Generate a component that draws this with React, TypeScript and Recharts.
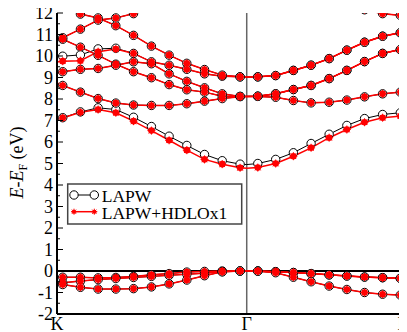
import { Line, LineChart, ReferenceLine, XAxis, YAxis } from "recharts";

// k-path: K = 0, Γ = 1.061, L = 1.935 (distance along the path)
const kPath = [
  0, 0.032, 0.131, 0.23, 0.329, 0.428, 0.528, 0.627, 0.726, 0.825, 0.924, 1.024,
  1.061, 1.123, 1.223, 1.322, 1.421, 1.522, 1.621, 1.72, 1.821, 1.92, 1.935,
];
// which k-points carry a symbol (the special points themselves do not)
const marked = [
  false, true, true, true, true, true, true, true, true, true, true, true,
  false, true, true, true, true, true, true, true, true, true, false,
];

const kTicks = [0, 1.061, 1.935];
const kLabels = ["K", "Γ", "L"];
const eTicks = [
  -2, -1.5, -1, -0.5, 0, 0.5, 1, 1.5, 2, 2.5, 3, 3.5, 4, 4.5, 5, 5.5, 6, 6.5, 7,
  7.5, 8, 8.5, 9, 9.5, 10, 10.5, 11, 11.5, 12,
];

// bands (eV), one value per k-point
const valence1 = [-0.28, -0.29, -0.29, -0.32, -0.3, -0.25, -0.18, -0.12, -0.05, -0.02, 0, 0, 0, 0, -0.03, -0.07, -0.12, -0.18, -0.23, -0.28, -0.31, -0.34, -0.34];
const valence2 = [-0.58, -0.55, -0.47, -0.4, -0.35, -0.3, -0.25, -0.2, -0.15, -0.1, -0.03, 0, 0, 0, -0.03, -0.07, -0.12, -0.18, -0.23, -0.28, -0.31, -0.34, -0.34];
const valence3 = [-0.6, -0.63, -0.76, -0.84, -0.84, -0.82, -0.74, -0.6, -0.42, -0.22, -0.04, 0, 0, -0.01, -0.08, -0.29, -0.5, -0.7, -0.86, -1.0, -1.08, -1.12, -1.13];
const condLapw = [6.98, 7.13, 7.4, 7.59, 7.51, 7.15, 6.72, 6.27, 5.84, 5.42, 5.13, 4.97, 4.95, 5.0, 5.19, 5.5, 5.93, 6.36, 6.77, 7.09, 7.28, 7.36, 7.37];
const condHdlo = [6.98, 7.12, 7.38, 7.51, 7.36, 6.97, 6.53, 6.08, 5.62, 5.19, 4.97, 4.8, 4.78, 4.81, 5.0, 5.34, 5.73, 6.2, 6.58, 6.92, 7.13, 7.2, 7.22];
const bandD = [8.75, 8.63, 8.32, 8.02, 7.81, 7.72, 7.7, 7.7, 7.78, 7.9, 8.02, 8.11, 8.12, 8.12, 8.08, 7.93, 7.82, 7.85, 7.95, 8.1, 8.24, 8.32, 8.33];
const bandA = [10.75, 10.78, 10.41, 10.03, 9.62, 9.27, 8.99, 8.67, 8.43, 8.32, 8.13, 8.12, 8.12, 8.13, 8.24, 8.44, 8.63, 8.95, 9.33, 9.74, 10.12, 10.3, 10.32];
const bandB = [9.2, 9.27, 9.38, 9.42, 9.57, 9.73, 9.64, 9.17, 8.82, 8.52, 8.24, 8.12, 8.12, 8.13, 8.24, 8.44, 8.63, 8.95, 9.33, 9.74, 10.12, 10.3, 10.32];
const bandCLapw = [9.97, 9.99, 10.05, 10.33, 10.36, 10.12, 9.73, 9.57, 9.38, 9.17, 9.06, 9.03, 9.02, 9.03, 9.09, 9.33, 9.57, 9.88, 10.27, 10.64, 10.92, 11.08, 11.1];
const bandCHdlo = [9.72, 9.76, 9.78, 10.2, 10.32, 10.12, 9.73, 9.57, 9.38, 9.17, 9.06, 9.03, 9.02, 9.03, 9.09, 9.33, 9.57, 9.88, 10.27, 10.64, 10.92, 11.08, 11.1];
const bandT1 = [12.75, 12.3, 11.95, 11.77, 11.41, 10.96, 10.46, 10.04, 9.66, 9.37, 9.11, 9.03, 9.02, 9.03, 9.09, 9.33, 9.57, 9.88, 10.27, 10.64, 10.92, 11.08, 11.1];
const bandT2 = [10.75, 10.85, 11.25, 11.67, 11.77, 11.97, 12.25, null, null, null, null, null, null, null, null, null, null, null, null, null, null, null, null];
const bandTop = [null, null, null, null, null, null, null, null, null, null, null, null, null, null, null, null, null, null, 12.6, 12.15, 11.97, 11.89, 11.88];

const lapwBands = [valence1, valence2, valence3, condLapw, bandD, bandA, bandB, bandCLapw, bandT1, bandT2, bandTop];
const hdloBands = [valence1, valence2, valence3, condHdlo, bandD, bandA, bandB, bandCHdlo, bandT1, bandT2, bandTop];

const W = 399;
const H = 324;
const AXIS_LEFT = 49;
const AXIS_RIGHT = 395;
const FONT = '"Liberation Serif", "Times New Roman", serif';

const rows = kPath.map((k, i) => {
  const row: Record<string, number | boolean | null> = { k, marked: marked[i] };
  lapwBands.forEach((b, j) => (row[`lapw${j}`] = b[i]));
  hdloBands.forEach((b, j) => (row[`hdlo${j}`] = b[i]));
  return row;
});

function starPath(cx: number, cy: number, r: number) {
  const d = r * 0.7;
  return `M${cx - r},${cy}H${cx + r}M${cx},${cy - r}V${cy + r}M${cx - d},${cy - d}L${cx + d},${cy + d}M${cx - d},${cy + d}L${cx + d},${cy - d}`;
}

function OpenCircle(p: any) {
  if (!p.payload?.marked || p.cy == null || p.value == null) return <g key={p.key} />;
  return <circle key={p.key} cx={p.cx} cy={p.cy} r={4.2} fill="#fff" stroke="#000" strokeWidth={1} />;
}

function RedStar(p: any) {
  if (!p.payload?.marked || p.cy == null || p.value == null) return <g key={p.key} />;
  return (
    <g key={p.key}>
      <circle cx={p.cx} cy={p.cy} r={3.3} fill="#f00" />
      <path d={starPath(p.cx, p.cy, 4)} stroke="#f00" strokeWidth={1} />
    </g>
  );
}

function LeftTick({ y, payload }: any) {
  const v = payload.value;
  const major = Number.isInteger(v);
  return (
    <g>
      <line x1={AXIS_LEFT} x2={AXIS_LEFT + (major ? 6 : 3)} y1={y} y2={y} stroke="#000" strokeWidth={1} />
      {major && (
        <text x={AXIS_LEFT - 4} y={y} dy="0.34em" textAnchor="end" fontSize={18} fontFamily={FONT} fill="#000">
          {v}
        </text>
      )}
    </g>
  );
}

function RightTick({ y, payload }: any) {
  const major = Number.isInteger(payload.value);
  return <line x1={AXIS_RIGHT} x2={AXIS_RIGHT - (major ? 6 : 3)} y1={y} y2={y} stroke="#000" strokeWidth={1} />;
}

function KTick({ x, payload }: any) {
  const i = kTicks.indexOf(payload.value);
  return (
    <text x={x} y={322} textAnchor="middle" fontSize={18} fontFamily={FONT} fill="#000">
      {kLabels[i]}
    </text>
  );
}

const frame = { stroke: "#000", strokeWidth: 2 };

export default function App() {
  return (
    <div style={{ position: "relative", width: W, height: H }}>
      <LineChart width={W} height={H} data={rows} margin={{ top: 5, right: 4, bottom: 0, left: 9 }}>
        <XAxis xAxisId="b" dataKey="k" type="number" domain={[0, 1.935]} ticks={kTicks} interval={0}
          tick={(p: any) => <KTick {...p} />} tickLine={false} height={18} axisLine={frame} allowDataOverflow />
        <XAxis xAxisId="t" orientation="top" dataKey="k" type="number" domain={[0, 1.935]}
          tick={false} tickLine={false} height={0} axisLine={frame} allowDataOverflow />
        <YAxis yAxisId="l" type="number" domain={[-2, 12]} ticks={eTicks} interval={0}
          tick={(p: any) => <LeftTick {...p} />} tickLine={false} width={40} axisLine={frame} allowDataOverflow />
        <YAxis yAxisId="r" orientation="right" type="number" domain={[-2, 12]} ticks={eTicks} interval={0}
          tick={(p: any) => <RightTick {...p} />} tickLine={false} width={0} axisLine={frame} allowDataOverflow />
        <ReferenceLine xAxisId="b" yAxisId="l" y={0} stroke="#000" strokeWidth={2} />
        <ReferenceLine xAxisId="b" yAxisId="l" x={1.061} stroke="#666" strokeWidth={1.5} />
        {lapwBands.map((_, j) => (
          <Line key={`lapw${j}`} xAxisId="b" yAxisId="l" dataKey={`lapw${j}`} type="linear" stroke="#000"
            strokeWidth={1} dot={OpenCircle} activeDot={false} isAnimationActive={false} />
        ))}
        {hdloBands.map((_, j) => (
          <Line key={`hdlo${j}`} xAxisId="b" yAxisId="l" dataKey={`hdlo${j}`} type="linear" stroke="#f00"
            strokeWidth={1.5} dot={RedStar} activeDot={false} isAnimationActive={false} />
        ))}
      </LineChart>
      <svg width={W} height={H} style={{ position: "absolute", left: 0, top: 0, pointerEvents: "none" }}>
        <text transform="translate(15,154.5) rotate(-90)" textAnchor="middle" fontSize={18} fontFamily={FONT} fill="#000">
          <tspan fontStyle="italic">E</tspan>-<tspan fontStyle="italic">E</tspan>
          <tspan fontSize={12} dy={4}>F</tspan>
          <tspan dy={-4}> (eV)</tspan>
        </text>
        <rect x={59.7} y={176} width={174} height={40} fill="#fff" stroke="#444" strokeWidth={1.5} />
        <line x1={63.7} x2={88.7} y1={187} y2={187} stroke="#000" strokeWidth={1} />
        <circle cx={66} cy={187} r={4.2} fill="#fff" stroke="#000" strokeWidth={1} />
        <circle cx={86.3} cy={187} r={4.2} fill="#fff" stroke="#000" strokeWidth={1} />
        <line x1={63.7} x2={88.7} y1={203.7} y2={203.7} stroke="#f00" strokeWidth={1.5} />
        <circle cx={66} cy={203.7} r={2} fill="#f00" />
        <path d={starPath(66, 203.7, 3)} stroke="#f00" strokeWidth={1} />
        <circle cx={86.3} cy={203.7} r={2} fill="#f00" />
        <path d={starPath(86.3, 203.7, 3)} stroke="#f00" strokeWidth={1} />
        <text x={93.7} y={193.7} fontSize={17.5} fontFamily={FONT} fill="#000">LAPW</text>
        <text x={93.7} y={210.5} fontSize={17.5} fontFamily={FONT} fill="#000">LAPW+HDLOx1</text>
      </svg>
    </div>
  );
}
